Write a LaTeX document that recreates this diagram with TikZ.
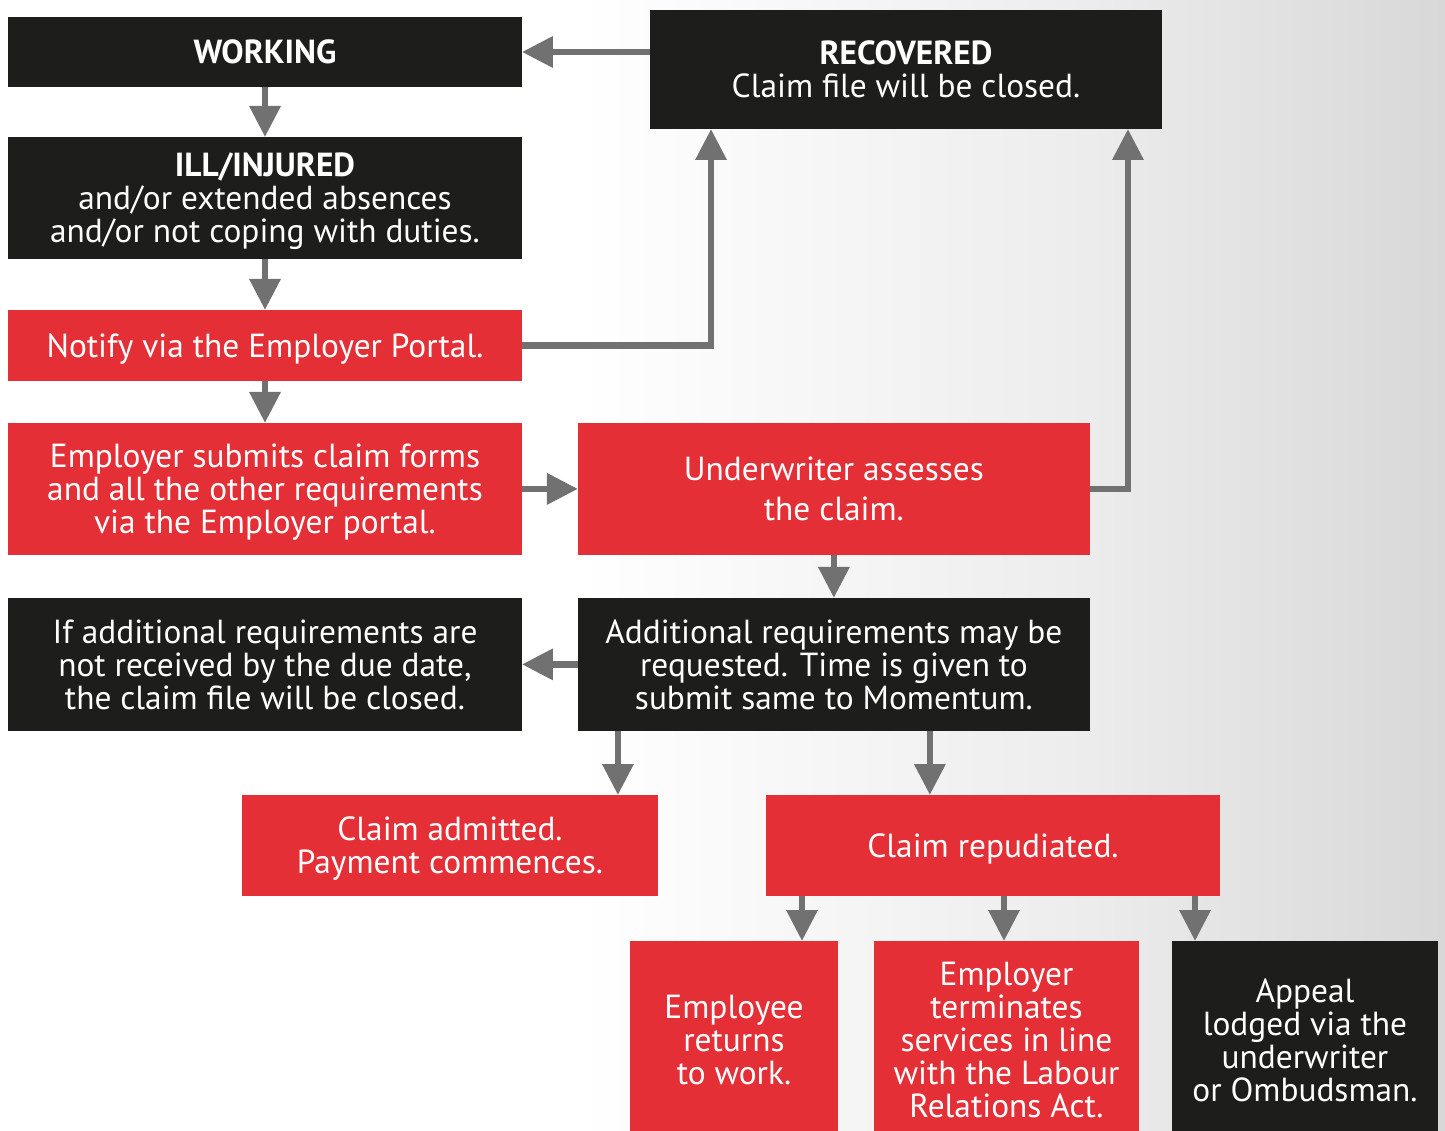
\documentclass[tikz,border=0pt]{standalone}
\usepackage{fontspec}
\setmainfont{PT Sans}
\usetikzlibrary{positioning, arrows.meta}
\definecolor{momred}{HTML}{E52F37}
\definecolor{momblack}{HTML}{1D1D1B}
\definecolor{linkgrey}{HTML}{717171}
\definecolor{bgmid}{HTML}{EDEDED}
\definecolor{bgend}{HTML}{D8D8D8}
\pgfdeclarehorizontalshading{pagefade}{100bp}{color(0bp)=(white); color(45bp)=(white); color(62bp)=(bgmid); color(75bp)=(bgend); color(100bp)=(bgend)}
\tikzset{link/.style={draw=linkgrey, line width=0.13cm, -{Triangle[length=0.62cm, width=0.6cm]}}}

\begin{document}
\begin{tikzpicture}[x=0.02cm, y=-0.02cm,
block/.style={rectangle, text=white, align=center, inner sep=0pt, outer sep=0pt, font=\fontsize{19}{18.7}\selectfont, text depth=0pt},
block_dark/.style={block, fill=momblack},
block_red/.style={block, fill=momred}]
    \shade[shading=pagefade] (0,0) rectangle (1445,1131);
    \useasboundingbox (0,0) rectangle (1445,1131);

    % left column
    \node[block_dark, minimum width=10.28cm, minimum height=1.4cm] (working) at (265,52) {\textbf{WORKING}};
    \node[block_dark, minimum width=10.28cm, minimum height=2.44cm, below=1cm of working] (ill) {\textbf{ILL/INJURED}\\and/or extended absences\\and/or not coping with duties.};
    \node[block_red, minimum width=10.28cm, minimum height=1.42cm, below=1.02cm of ill] (notify) {Notify via the Employer Portal.};
    \node[block_red, minimum width=10.28cm, minimum height=2.64cm, below=0.84cm of notify] (submit) {Employer submits claim forms\\and all the other requirements\\via the Employer portal.};
    \node[block_dark, minimum width=10.28cm, minimum height=2.66cm, below=0.86cm of submit] (notmet) {If additional requirements are\\not received by the due date,\\the claim file will be closed.};

    % right column
    \node[block_dark, minimum width=10.24cm, minimum height=2.38cm] (recovered) at (906,69.5) {\textbf{RECOVERED}\\Claim file will be closed.};
    \node[block_red, minimum width=10.24cm, minimum height=2.64cm, right=1.12cm of submit] (assess) {Underwriter assesses\\[0.15cm]the claim.};
    \node[block_dark, minimum width=10.24cm, minimum height=2.66cm, right=1.12cm of notmet] (addreq) {Additional requirements may be\\requested. Time is given to\\submit same to Momentum.};

    % outcomes
    \node[block_red, minimum width=8.32cm, minimum height=2.02cm] (admitted) at (450,845.5) {Claim admitted.\\Payment commences.};
    \node[block_red, minimum width=9.08cm, minimum height=2.02cm] (repud) at (993,845.5) {Claim repudiated.};
    \node[block_red, minimum width=4.16cm, minimum height=3.96cm] (returns) at (734,1040) {Employee\\returns\\to work.};
    \node[block_red, minimum width=5.3cm, minimum height=3.96cm] (terminates) at (1006.5,1040) {Employer\\terminates\\services in line\\with the Labour\\Relations Act.};
    \node[block_dark, minimum width=5.32cm, minimum height=3.96cm] (appeal) at (1305,1040) {Appeal\\lodged via the\\underwriter\\or Ombudsman.};

    % connectors
    \draw[link] (recovered.west |- working) -- (working.east);
    \draw[link] (working) -- (ill);
    \draw[link] (ill) -- (notify);
    \draw[link] (notify) -- (submit);
    \draw[link] (notify.east) -| ([xshift=1.22cm]recovered.south west);
    \draw[link] (submit) -- (assess);
    \draw[link] (assess.east) -| ([xshift=-0.68cm]recovered.south east);
    \draw[link] (assess) -- (addreq);
    \draw[link] (addreq) -- (notmet);
    \coordinate (yes) at ([xshift=0.8cm]addreq.south west);
    \draw[link] (yes) -- (yes |- admitted.north);
    \coordinate (no) at ([xshift=7.04cm]addreq.south west);
    \draw[link] (no) -- (no |- repud.north);
    \foreach \dest/\dx in {returns/1.36cm, terminates/-0.05cm, appeal/-2.2cm}{
        \coordinate (tip) at ([xshift=\dx]\dest.north);
        \draw[link] (tip |- repud.south) -- (tip);
    }
\end{tikzpicture}
\end{document}
